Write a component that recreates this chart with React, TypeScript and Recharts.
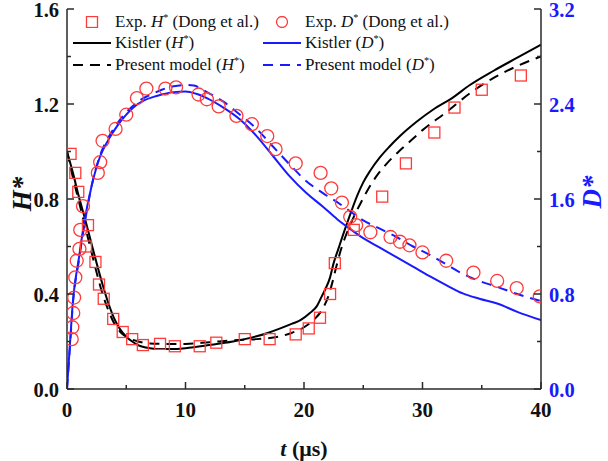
import React from "react";
import { ComposedChart, Line, Scatter, XAxis, YAxis } from "recharts";

// Experimental points (Dong et al.): [t (us), value]
const expH: [number, number][] = [
  [0.3, 0.99], [0.7, 0.91], [0.95, 0.83], [1.6, 0.6], [1.77, 0.69],
  [2.4, 0.535], [2.7, 0.44], [3.1, 0.38], [3.9, 0.295], [4.7, 0.24],
  [5.5, 0.21], [6.4, 0.185], [7.85, 0.19], [9.1, 0.18], [11.2, 0.18],
  [12.6, 0.195], [15.0, 0.21], [17.1, 0.21], [19.3, 0.23], [20.4, 0.255],
  [21.35, 0.3], [22.2, 0.4], [22.6, 0.53], [24.2, 0.67], [26.6, 0.81],
  [28.6, 0.95], [31.0, 1.08], [32.7, 1.185], [35.0, 1.26], [38.3, 1.32],
];

const expD: [number, number][] = [
  [0.4, 0.42], [0.45, 0.52], [0.53, 0.64], [0.6, 0.77], [0.7, 0.94],
  [0.82, 1.08], [1.05, 1.18], [1.12, 1.34], [1.35, 1.54], [2.6, 1.82],
  [2.8, 1.91], [3.0, 2.09], [4.1, 2.19], [5.0, 2.31], [5.9, 2.45],
  [6.7, 2.53], [8.3, 2.53], [9.2, 2.54], [11.1, 2.48], [11.8, 2.44],
  [12.8, 2.38], [14.3, 2.3], [15.6, 2.23], [16.9, 2.13], [17.6, 2.02],
  [19.3, 1.9], [21.4, 1.82], [22.3, 1.69], [23.2, 1.57], [23.9, 1.45],
  [24.4, 1.38], [25.6, 1.32], [27.3, 1.28], [28.1, 1.24], [28.9, 1.21],
  [30.0, 1.15], [32.0, 1.08], [34.3, 0.98], [36.3, 0.91], [37.95, 0.85],
  [39.9, 0.78],
];

// Kistler curves
const kistlerH: [number, number][] = [
  [0, 1.0], [0.5, 0.91], [1.0, 0.81], [1.5, 0.72], [2.0, 0.625],
  [2.5, 0.53], [3.0, 0.44], [3.5, 0.36], [4.0, 0.295], [4.5, 0.25],
  [5.0, 0.22], [5.5, 0.2], [6.0, 0.185], [7.0, 0.172], [8.0, 0.168],
  [9.0, 0.168], [10, 0.172], [12, 0.185], [14, 0.2], [15, 0.21],
  [16, 0.222], [17, 0.237], [18, 0.255], [19, 0.275], [19.7, 0.29],
  [20.5, 0.32], [21.1, 0.35], [21.5, 0.39], [21.8, 0.42], [22.2, 0.47],
  [22.5, 0.53], [22.9, 0.59], [23.2, 0.635], [23.9, 0.735], [24.5, 0.815],
  [25.0, 0.87], [25.6, 0.92], [26.4, 0.975], [27.2, 1.02], [28.1, 1.065],
  [29.5, 1.125], [31, 1.18], [32.5, 1.225], [34, 1.28], [36, 1.34],
  [38, 1.395], [40, 1.45],
];

const kistlerD: [number, number][] = [
  [0, 0], [0.25, 0.38], [0.5, 0.74], [1.0, 1.1], [1.4, 1.37],
  [2.1, 1.72], [2.8, 1.96], [3.5, 2.1], [4.2, 2.21], [5.0, 2.31],
  [5.6, 2.37], [6.5, 2.43], [7.3, 2.46], [8, 2.48], [9, 2.5],
  [10, 2.505], [10.4, 2.5], [11.1, 2.48], [11.8, 2.45], [13.2, 2.37],
  [14.6, 2.27], [16, 2.13], [17.4, 1.96], [18.8, 1.79], [20.2, 1.65],
  [21.6, 1.535], [22.8, 1.43], [24, 1.34], [25, 1.27], [26.4, 1.19],
  [27.8, 1.11], [29.2, 1.03], [30.6, 0.95], [32, 0.875], [33.4, 0.805],
  [34.8, 0.76], [36.3, 0.72], [38, 0.65], [40, 0.58],
];

// Present model curves
const modelH: [number, number][] = [
  [0, 1.0], [0.5, 0.89], [1.0, 0.79], [1.5, 0.69], [2.0, 0.59],
  [2.5, 0.49], [3.0, 0.4], [3.5, 0.33], [4.0, 0.275], [4.5, 0.24],
  [5.0, 0.22], [6.0, 0.2], [7.0, 0.192], [8, 0.19], [10, 0.19],
  [12, 0.197], [14, 0.205], [16, 0.21], [18, 0.222], [19, 0.237],
  [20, 0.26], [20.8, 0.29], [21.6, 0.34], [22.05, 0.39], [22.4, 0.45],
  [22.8, 0.53], [23.2, 0.6], [23.6, 0.655], [24.2, 0.725], [24.7, 0.775],
  [25.4, 0.84], [26.1, 0.895], [27, 0.95], [28, 1.0], [29, 1.045],
  [30, 1.09], [32, 1.165], [34, 1.245], [36, 1.31], [38, 1.36],
  [40, 1.4],
];

const modelD: [number, number][] = [
  [0, 0], [0.25, 0.36], [0.5, 0.72], [1, 1.08], [1.5, 1.4],
  [2.1, 1.72], [2.8, 1.97], [3.5, 2.12], [4.2, 2.23], [5, 2.33],
  [6, 2.42], [7.3, 2.49], [8, 2.52], [9, 2.55], [10, 2.56],
  [10.7, 2.555], [11.8, 2.5], [13.2, 2.42], [14.6, 2.31], [16, 2.19],
  [17.4, 2.04], [18.8, 1.89], [20.2, 1.75], [21.6, 1.65], [23, 1.56],
  [24.4, 1.46], [25, 1.42], [26.4, 1.35], [27.8, 1.28], [29.2, 1.2],
  [30.6, 1.13], [32, 1.05], [33.4, 0.97], [34.8, 0.91], [36.3, 0.86],
  [38, 0.8], [40, 0.74],
];

const xTicks = [0, 5, 10, 15, 20, 25, 30, 35, 40];
const hTicks = [0, 0.2, 0.4, 0.6, 0.8, 1.0, 1.2, 1.4, 1.6];
const dTicks = [0, 0.4, 0.8, 1.2, 1.6, 2.0, 2.4, 2.8, 3.2];

const SERIF = '"Liberation Serif", "Times New Roman", serif';
const RED = "#ff3a3a";
const BLUE = "#1a1aff";
const AXIS = "#2a2a2a";

const pts = (arr: [number, number][]) => arr.map(([t, v]) => ({ t, v }));

function BottomTick({ x, y, payload }: any) {
  const major = payload.value % 10 === 0;
  return (
    <g>
      <line x1={x} y1={y} x2={x} y2={y - (major ? 7 : 4)} stroke={AXIS} strokeWidth={1.5} />
      {major && (
        <text x={x} y={y + 28} textAnchor="middle" fontFamily={SERIF} fontWeight="bold" fontSize={21} fill="#111">
          {payload.value}
        </text>
      )}
    </g>
  );
}

function LeftTick({ x, y, payload }: any) {
  const major = Math.round(payload.value * 10) % 4 === 0;
  return (
    <g>
      <line x1={x} y1={y} x2={x + (major ? 7 : 4)} y2={y} stroke={AXIS} strokeWidth={1.5} />
      {major && (
        <text x={x - 8} y={y + 7.5} textAnchor="end" fontFamily={SERIF} fontWeight="bold" fontSize={20.5} fill="#111">
          {payload.value.toFixed(1)}
        </text>
      )}
    </g>
  );
}

function RightTick({ x, y, payload }: any) {
  const major = Math.round(payload.value * 10) % 8 === 0;
  return (
    <g>
      <line x1={x} y1={y} x2={x - (major ? 7 : 4)} y2={y} stroke={AXIS} strokeWidth={1.5} />
      {major && (
        <text x={x + 8} y={y + 7.5} textAnchor="start" fontFamily={SERIF} fontWeight="bold" fontSize={20.5} fill={BLUE}>
          {payload.value.toFixed(1)}
        </text>
      )}
    </g>
  );
}

const SquareMark = ({ cx, cy }: any) => (
  <rect x={cx - 5.5} y={cy - 5.5} width={11} height={11} fill="none" stroke={RED} strokeWidth={1.3} />
);
const CircleMark = ({ cx, cy }: any) => (
  <circle cx={cx} cy={cy} r={6.5} fill="none" stroke={RED} strokeWidth={1.3} />
);

const Star = () => <sup style={{ fontSize: "0.6em", verticalAlign: "0.55em", lineHeight: 0 }}>*</sup>;

function LegendIcon({ kind, color }: { kind: string; color: string }) {
  return (
    <svg width={38} height={12} style={{ position: "absolute", left: 0, top: 5 }}>
      {kind === "square" && <rect x={13.5} y={0.5} width={11} height={11} fill="none" stroke={RED} strokeWidth={1.3} />}
      {kind === "circle" && <circle cx={19} cy={6} r={5.5} fill="none" stroke={RED} strokeWidth={1.3} />}
      {kind === "solid" && <line x1={0} y1={6} x2={38} y2={6} stroke={color} strokeWidth={2} />}
      {kind === "dash" && <line x1={0} y1={6} x2={38} y2={6} stroke={color} strokeWidth={2} strokeDasharray="10 7" />}
    </svg>
  );
}

function LegendItem({ left, top, kind, color, children }: any) {
  return (
    <div style={{ position: "absolute", left, top, height: 22, whiteSpace: "nowrap" }}>
      <LegendIcon kind={kind} color={color} />
      <span style={{ position: "absolute", left: 42, top: 0, fontFamily: SERIF, fontSize: 17, lineHeight: "22px", color: "#111" }}>
        {children}
      </span>
    </div>
  );
}

export default function App() {
  return (
    <div style={{ position: "absolute", left: 0, top: 0, width: 608, height: 461, background: "#fff", overflow: "hidden" }}>
      <ComposedChart width={608} height={461} margin={{ top: 9, right: 0, bottom: 0, left: 0 }}>
        <XAxis
          xAxisId="t"
          dataKey="t"
          type="number"
          domain={[0, 40]}
          ticks={xTicks}
          interval={0}
          height={72}
          tickSize={0}
          tickMargin={0}
          tickLine={false}
          tick={<BottomTick />}
          axisLine={{ stroke: AXIS, strokeWidth: 1.5 }}
          allowDataOverflow
        />
        <XAxis
          xAxisId="top"
          orientation="top"
          type="number"
          domain={[0, 40]}
          height={0}
          tick={false}
          tickLine={false}
          axisLine={{ stroke: AXIS, strokeWidth: 1.5 }}
        />
        <YAxis
          yAxisId="h"
          type="number"
          domain={[0, 1.6]}
          ticks={hTicks}
          interval={0}
          width={67}
          tickSize={0}
          tickMargin={0}
          tickLine={false}
          tick={<LeftTick />}
          axisLine={{ stroke: AXIS, strokeWidth: 1.5 }}
          allowDataOverflow
        />
        <YAxis
          yAxisId="d"
          orientation="right"
          type="number"
          domain={[0, 3.2]}
          ticks={dTicks}
          interval={0}
          width={67}
          tickSize={0}
          tickMargin={0}
          tickLine={false}
          tick={<RightTick />}
          axisLine={{ stroke: AXIS, strokeWidth: 1.5 }}
          allowDataOverflow
        />

        <Scatter xAxisId="t" yAxisId="h" data={pts(expH)} dataKey="v" shape={<SquareMark />} isAnimationActive={false} />
        <Scatter xAxisId="t" yAxisId="d" data={pts(expD)} dataKey="v" shape={<CircleMark />} isAnimationActive={false} />

        <Line xAxisId="t" yAxisId="h" data={pts(kistlerH)} dataKey="v" type="monotone" stroke="#000" strokeWidth={2} dot={false} isAnimationActive={false} />
        <Line xAxisId="t" yAxisId="h" data={pts(modelH)} dataKey="v" type="monotone" stroke="#000" strokeWidth={2} strokeDasharray="10 7" dot={false} isAnimationActive={false} />
        <Line xAxisId="t" yAxisId="d" data={pts(kistlerD)} dataKey="v" type="monotone" stroke={BLUE} strokeWidth={2} dot={false} isAnimationActive={false} />
        <Line xAxisId="t" yAxisId="d" data={pts(modelD)} dataKey="v" type="monotone" stroke={BLUE} strokeWidth={2} strokeDasharray="10 7" dot={false} isAnimationActive={false} />
      </ComposedChart>

      {/* legend */}
      <LegendItem left={73} top={11} kind="square">Exp. <i>H</i><Star /> (Dong et al.)</LegendItem>
      <LegendItem left={73} top={32} kind="solid" color="#000">Kistler (<i>H</i><Star />)</LegendItem>
      <LegendItem left={73} top={54} kind="dash" color="#000">Present model (<i>H</i><Star />)</LegendItem>
      <LegendItem left={263} top={11} kind="circle">Exp. <i>D</i><Star /> (Dong et al.)</LegendItem>
      <LegendItem left={263} top={32} kind="solid" color={BLUE}>Kistler (<i>D</i><Star />)</LegendItem>
      <LegendItem left={263} top={54} kind="dash" color={BLUE}>Present model (<i>D</i><Star />)</LegendItem>

      {/* axis titles */}
      <div style={{ position: "absolute", left: 0, top: 436, width: 608, textAlign: "center", fontFamily: SERIF, fontWeight: "bold", fontSize: 22, color: "#111" }}>
        <i>t</i> (μs)
      </div>
      <div style={{ position: "absolute", left: 22, top: 194, transform: "translate(-50%, -50%) rotate(-90deg)", fontFamily: SERIF, fontWeight: "bold", fontStyle: "italic", fontSize: 27, lineHeight: "28px", color: "#111", whiteSpace: "nowrap" }}>
        H*
      </div>
      <div style={{ position: "absolute", left: 592, top: 192, transform: "translate(-50%, -50%) rotate(-90deg)", fontFamily: SERIF, fontWeight: "bold", fontStyle: "italic", fontSize: 27, lineHeight: "28px", color: BLUE, whiteSpace: "nowrap" }}>
        D*
      </div>
    </div>
  );
}
